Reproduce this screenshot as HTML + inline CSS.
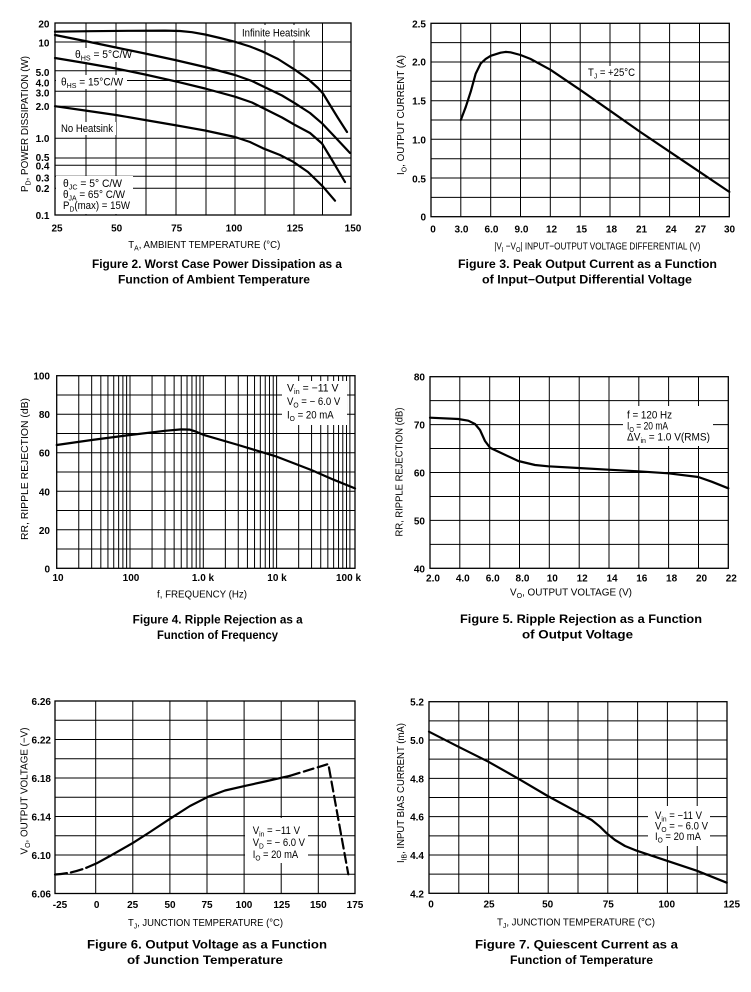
<!DOCTYPE html>
<html><head><meta charset="utf-8">
<style>
html,body{margin:0;padding:0;background:#fff;}
svg{display:block;}
text{font-family:"Liberation Sans",Arial,sans-serif;fill:#000;}
.k{font-weight:bold;font-size:10px;}
.a{font-size:10.6px;}
.x{font-size:10.4px;}
.c{font-weight:bold;font-size:11.5px;}
.s{font-size:7.4px;}
.g{stroke:#000;stroke-width:1;fill:none;}
.b{stroke:#000;stroke-width:1.3;fill:none;}
.cv{stroke:#000;stroke-width:2.2;fill:none;stroke-linejoin:round;stroke-linecap:round;}
</style></head>
<body>
<svg width="751" height="992" viewBox="0 0 751 992" xmlns="http://www.w3.org/2000/svg">
<rect x="0" y="0" width="751" height="992" fill="#fff"/>

<!-- ================= FIGURE 2 ================= -->
<path class="g" d="M86 23V215M116 23V215M146 23V215M176 23V215M206 23V215M235 23V215M265 23V215M294 23V215M322.5 23V215
M55 42H351M55 70.7H351M55 80.5H351M55 91.3H351M55 106.3H351M55 138.3H351M55 158H351M55 165.3H351M55 176.3H351M55 188.3H351"/>
<rect class="b" x="55" y="23" width="296" height="192"/>
<g fill="#fff">
<rect x="239" y="25" width="74" height="15"/>
<rect x="72" y="48" width="63" height="14"/>
<rect x="56" y="75" width="71" height="14"/>
<rect x="56" y="122" width="60" height="13"/>
<rect x="56" y="176" width="77" height="38"/>
</g>
<path class="cv" d="M55,31.7 L90,31.2 L130,30.8 L165,30.6 L180,31 L192,32.2 L205,34.5 L220,38 L235,41.8 L250,46.5 L263,51.7 L278,59 L295,69.8 L308,79 L318,88 L323,93.5 L330,105 L338,118 L347,132"/>
<path class="cv" d="M55,35 L85,41 L116,47.5 L145,53.5 L175,60 L205,67 L235,75 L252,81 L267,88.3 L282,95.5 L295,103.3 L310,113 L322,123.3 L335,137 L350,153"/>
<path class="cv" d="M55,58 L85,63 L116,68.5 L145,74.5 L177,81.7 L205,88.5 L235,96.7 L252,102.5 L267,110 L282,117.5 L295,125 L310,133 L322,143.5 L332,160 L345,182"/>
<path class="cv" d="M55,106.2 L85,110.5 L116,115 L145,120 L177,125.5 L205,130.5 L235,137 L250,142 L263,148.3 L280,155 L293,161.7 L308,172 L323,186.7 L335,200.7"/>
<g class="k" text-anchor="end">
<text x="49.5" y="27.5">20</text><text x="49.5" y="46.5">10</text><text x="49.5" y="76">5.0</text>
<text x="49.5" y="86.5">4.0</text><text x="49.5" y="96.5">3.0</text><text x="49.5" y="110">2.0</text>
<text x="49.5" y="142">1.0</text><text x="49.5" y="161">0.5</text><text x="49.5" y="169.5">0.4</text>
<text x="49.5" y="181.5">0.3</text><text x="49.5" y="192">0.2</text><text x="49.5" y="219">0.1</text>
</g>
<g class="k" text-anchor="middle">
<text x="57" y="231.5">25</text><text x="116.7" y="231.5">50</text><text x="176.7" y="231.5">75</text>
<text x="234" y="231.5">100</text><text x="295" y="231.5">125</text><text x="353" y="231.5">150</text>
</g>
<text class="a" x="242" y="36.5" textLength="68" lengthAdjust="spacingAndGlyphs">Infinite Heatsink</text>
<text class="a" x="75" y="58" textLength="57" lengthAdjust="spacingAndGlyphs">θ<tspan class="s" dy="2.5">HS</tspan><tspan dy="-2.5"> = 5°C/W</tspan></text>
<text class="a" x="61" y="85.5" textLength="62" lengthAdjust="spacingAndGlyphs">θ<tspan class="s" dy="2.5">HS</tspan><tspan dy="-2.5"> = 15°C/W</tspan></text>
<text class="a" x="61" y="132" textLength="52" lengthAdjust="spacingAndGlyphs">No Heatsink</text>
<text class="a" x="63" y="187" textLength="59" lengthAdjust="spacingAndGlyphs">θ<tspan class="s" dy="2.5">JC</tspan><tspan dy="-2.5"> = 5° C/W</tspan></text>
<text class="a" x="63" y="198" textLength="62" lengthAdjust="spacingAndGlyphs">θ<tspan class="s" dy="2.5">JA</tspan><tspan dy="-2.5"> = 65° C/W</tspan></text>
<text class="a" x="63" y="209" textLength="67" lengthAdjust="spacingAndGlyphs">P<tspan class="s" dy="2.5">D</tspan><tspan dy="-2.5">(max) = 15W</tspan></text>
<text class="x" x="128.3" y="248" textLength="152" lengthAdjust="spacingAndGlyphs">T<tspan class="s" dy="2.5">A</tspan><tspan dy="-2.5">, AMBIENT TEMPERATURE (°C)</tspan></text>
<text class="x" transform="translate(28,124) rotate(-90)" x="-68" y="0" textLength="136" lengthAdjust="spacingAndGlyphs">P<tspan class="s" dy="2.5">D</tspan><tspan dy="-2.5">, POWER DISSIPATION (W)</tspan></text>
<text class="c" x="92" y="268" textLength="250" lengthAdjust="spacingAndGlyphs">Figure 2. Worst Case Power Dissipation as a</text>
<text class="c" x="118" y="283.7" textLength="192" lengthAdjust="spacingAndGlyphs">Function of Ambient Temperature</text>

<!-- ================= FIGURE 3 ================= -->
<path class="g" d="M460.8 23.3V216.7M490.7 23.3V216.7M520.5 23.3V216.7M550.3 23.3V216.7M580.2 23.3V216.7M610 23.3V216.7M639.8 23.3V216.7M669.6 23.3V216.7M699.5 23.3V216.7
M431 197.4H729.3M431 178H729.3M431 158.7H729.3M431 139.3H729.3M431 120H729.3M431 100.7H729.3M431 81.3H729.3M431 62H729.3M431 42.6H729.3"/>
<rect class="b" x="431" y="23.3" width="298.3" height="193.4"/>
<rect x="585" y="66" width="53" height="14" fill="#fff"/>
<path class="cv" d="M460.8,120 L465.8,106.8 L470.8,91.4 L475.7,73.6 L480.7,63.5 L485.7,58.9 L490.7,55.8 L500.6,52.7 L505.6,51.9 L510.5,52.3 L520.5,55 L530.4,58.9 L550.3,69.7 L580.1,89.8 L610,110.7 L639.8,131.6 L669.6,151.7 L699.5,171.8 L729.3,191.9"/>
<g class="k" text-anchor="end">
<text x="426" y="27.3">2.5</text><text x="426" y="65.7">2.0</text><text x="426" y="104.7">1.5</text>
<text x="426" y="143.3">1.0</text><text x="426" y="182.3">0.5</text><text x="426" y="220.7">0</text>
</g>
<g class="k" text-anchor="middle">
<text x="433" y="232.3">0</text><text x="461.5" y="232.3">3.0</text><text x="491.5" y="232.3">6.0</text>
<text x="521.5" y="232.3">9.0</text><text x="551.5" y="232.3">12</text><text x="581.5" y="232.3">15</text>
<text x="611.5" y="232.3">18</text><text x="641.5" y="232.3">21</text><text x="671" y="232.3">24</text>
<text x="700.5" y="232.3">27</text><text x="729.5" y="232.3">30</text>
</g>
<text class="a" x="588" y="76" textLength="47" lengthAdjust="spacingAndGlyphs">T<tspan class="s" dy="2.5">J</tspan><tspan dy="-2.5"> = +25°C</tspan></text>
<text class="x" x="494.3" y="249.5" textLength="206" lengthAdjust="spacingAndGlyphs">|V<tspan class="s" dy="2.5">I</tspan><tspan dy="-2.5"> −V</tspan><tspan class="s" dy="2.5">O</tspan><tspan dy="-2.5">| INPUT−OUTPUT VOLTAGE DIFFERENTIAL (V)</tspan></text>
<text class="x" transform="translate(404,115) rotate(-90)" x="-60" y="0" textLength="120" lengthAdjust="spacingAndGlyphs">I<tspan class="s" dy="2.5">O</tspan><tspan dy="-2.5">, OUTPUT CURRENT (A)</tspan></text>
<text class="c" x="458" y="268" textLength="259" lengthAdjust="spacingAndGlyphs">Figure 3. Peak Output Current as a Function</text>
<text class="c" x="482" y="283.7" textLength="210" lengthAdjust="spacingAndGlyphs">of Input−Output Differential Voltage</text>

<!-- ================= FIGURE 4 ================= -->
<path class="g" d="M56.7 549H355M56.7 529.8H355M56.7 510.5H355M56.7 491.3H355M56.7 472H355M56.7 452.7H355M56.7 433.5H355M56.7 414.2H355M56.7 395H355
M78.76 375.7V568.3M91.67 375.7V568.3M100.83 375.7V568.3M107.94 375.7V568.3M113.73 375.7V568.3M118.64 375.7V568.3M122.89 375.7V568.3M126.63 375.7V568.3M130 375.7V568.3
M152.06 375.7V568.3M164.97 375.7V568.3M174.13 375.7V568.3M181.24 375.7V568.3M187.03 375.7V568.3M191.94 375.7V568.3M196.19 375.7V568.3M199.93 375.7V568.3M203.3 375.7V568.3
M225.36 375.7V568.3M238.27 375.7V568.3M247.43 375.7V568.3M254.54 375.7V568.3M260.33 375.7V568.3M265.24 375.7V568.3M269.49 375.7V568.3M273.23 375.7V568.3M276.6 375.7V568.3
M298.66 375.7V568.3M311.57 375.7V568.3M320.73 375.7V568.3M327.84 375.7V568.3M333.63 375.7V568.3M338.54 375.7V568.3M342.79 375.7V568.3M346.53 375.7V568.3M349.9 375.7V568.3"/>
<rect class="b" x="56.7" y="375.7" width="298.3" height="192.6"/>
<rect x="282" y="381" width="65" height="44" fill="#fff"/>
<path class="cv" d="M56.7,445 L91.7,440 L130,435 L165,430.8 L181.2,429.4 L189.6,429.6 L196.2,431.7 L203.3,434.8 L238.3,445 L276.6,456.6 L311.6,470.1 L333.6,479.7 L355,488.4"/>
<g class="k" text-anchor="end">
<text x="50" y="379.7">100</text><text x="50" y="418.2">80</text><text x="50" y="456.7">60</text>
<text x="50" y="495.3">40</text><text x="50" y="533.8">20</text><text x="50" y="572.3">0</text>
</g>
<g class="k" text-anchor="middle">
<text x="58" y="581">10</text><text x="131" y="581">100</text><text x="203" y="581">1.0 k</text>
<text x="277" y="581">10 k</text><text x="348.5" y="581">100 k</text>
</g>
<text class="a" x="287" y="391.5" textLength="51.5" lengthAdjust="spacingAndGlyphs">V<tspan class="s" dy="2.5">in</tspan><tspan dy="-2.5"> = −11 V</tspan></text>
<text class="a" x="287" y="405" textLength="53.3" lengthAdjust="spacingAndGlyphs">V<tspan class="s" dy="2.5">O</tspan><tspan dy="-2.5"> = − 6.0 V</tspan></text>
<text class="a" x="287" y="418.5" textLength="46.7" lengthAdjust="spacingAndGlyphs">I<tspan class="s" dy="2.5">O</tspan><tspan dy="-2.5"> = 20 mA</tspan></text>
<text class="x" x="157" y="597.5" textLength="90" lengthAdjust="spacingAndGlyphs">f, FREQUENCY (Hz)</text>
<text class="x" transform="translate(28,469) rotate(-90)" x="-71" y="0" textLength="142" lengthAdjust="spacingAndGlyphs">RR, RIPPLE REJECTION (dB)</text>
<text class="c" x="132.7" y="623.5" textLength="170" lengthAdjust="spacingAndGlyphs">Figure 4. Ripple Rejection as a</text>
<text class="c" x="157" y="639.2" textLength="121" lengthAdjust="spacingAndGlyphs">Function of Frequency</text>

<!-- ================= FIGURE 5 ================= -->
<path class="g" d="M430 544.35H728.3M430 520.4H728.3M430 496.45H728.3M430 472.5H728.3M430 448.55H728.3M430 424.6H728.3M430 400.65H728.3
M459.8 376.7V568.3M489.7 376.7V568.3M519.5 376.7V568.3M549.3 376.7V568.3M579.2 376.7V568.3M609 376.7V568.3M638.8 376.7V568.3M668.6 376.7V568.3M698.5 376.7V568.3"/>
<rect class="b" x="430" y="376.7" width="298.3" height="191.6"/>
<rect x="623" y="406" width="90" height="40" fill="#fff"/>
<path class="cv" d="M430,417.7 L458.3,419 L468.3,420.7 L475,424 L480,430 L485,441 L490,447.7 L501.7,453.3 L518.3,461 L535,465 L548.3,466.3 L578.3,468 L608.3,469.7 L638.3,471.3 L668.3,473.3 L698.3,477 L711.7,481.7 L728.3,488.3"/>
<g class="k" text-anchor="end">
<text x="425" y="380.7">80</text><text x="425" y="428.6">70</text><text x="425" y="476.5">60</text>
<text x="425" y="524.4">50</text><text x="425" y="572.3">40</text>
</g>
<g class="k" text-anchor="middle">
<text x="433" y="581.5">2.0</text><text x="462.8" y="581.5">4.0</text><text x="492.7" y="581.5">6.0</text>
<text x="522.5" y="581.5">8.0</text><text x="552.3" y="581.5">10</text><text x="582.2" y="581.5">12</text>
<text x="612" y="581.5">14</text><text x="641.8" y="581.5">16</text><text x="671.6" y="581.5">18</text>
<text x="701.5" y="581.5">20</text><text x="731.3" y="581.5">22</text>
</g>
<text class="a" x="627" y="418.5" textLength="45" lengthAdjust="spacingAndGlyphs">f = 120 Hz</text>
<text class="a" x="627" y="429.5" textLength="41" lengthAdjust="spacingAndGlyphs">I<tspan class="s" dy="2.5">O</tspan><tspan dy="-2.5"> = 20 mA</tspan></text>
<text class="a" x="627" y="440.5" textLength="83" lengthAdjust="spacingAndGlyphs">ΔV<tspan class="s" dy="2.5">in</tspan><tspan dy="-2.5"> = 1.0 V(RMS)</tspan></text>
<text class="x" x="510" y="595.5" textLength="122" lengthAdjust="spacingAndGlyphs">V<tspan class="s" dy="2.5">O</tspan><tspan dy="-2.5">, OUTPUT VOLTAGE (V)</tspan></text>
<text class="x" transform="translate(402.5,472) rotate(-90)" x="-64.5" y="0" textLength="129" lengthAdjust="spacingAndGlyphs">RR, RIPPLE REJECTION (dB)</text>
<text class="c" x="460" y="623" textLength="242" lengthAdjust="spacingAndGlyphs">Figure 5. Ripple Rejection as a Function</text>
<text class="c" x="522" y="638.7" textLength="111" lengthAdjust="spacingAndGlyphs">of Output Voltage</text>

<!-- ================= FIGURE 6 ================= -->
<path class="g" d="M55 874.25H355M55 855H355M55 835.75H355M55 816.5H355M55 797.25H355M55 778H355M55 758.75H355M55 739.5H355M55 720.25H355
M95.7 701V893.5M132.8 701V893.5M169.9 701V893.5M207 701V893.5M244.1 701V893.5M281.2 701V893.5M318.3 701V893.5"/>
<rect class="b" x="55" y="701" width="300" height="192.5"/>
<rect x="245" y="818" width="63" height="45" fill="#fff"/>
<path class="cv" stroke-dasharray="12 4" stroke-linecap="butt" d="M55,874.5 Q72,873.5 87,867.5"/>
<path class="cv" d="M87,867.5 L96.7,863.3 L110,856 L133.3,842.7 L150,832 L170.7,818.3 L190,806 L208.3,796.7 L225,790.5 L246,785.7 L265,781.5 L283.3,777.3 L290,775.8"/>
<path class="cv" stroke-dasharray="10 4.5" stroke-linecap="butt" stroke-linejoin="miter" d="M290,775.8 L328.3,764 L348.3,874.3"/>
<g class="k" text-anchor="end">
<text x="51" y="705">6.26</text><text x="51" y="743.5">6.22</text><text x="51" y="782">6.18</text>
<text x="51" y="820.5">6.14</text><text x="51" y="859">6.10</text><text x="51" y="897.5">6.06</text>
</g>
<g class="k" text-anchor="middle">
<text x="60" y="908">-25</text><text x="96.7" y="908">0</text><text x="132.7" y="908">25</text>
<text x="170" y="908">50</text><text x="207" y="908">75</text><text x="244" y="908">100</text>
<text x="281.7" y="908">125</text><text x="318.3" y="908">150</text><text x="355" y="908">175</text>
</g>
<text class="a" x="252.7" y="834" textLength="47.3" lengthAdjust="spacingAndGlyphs">V<tspan class="s" dy="2.5">in</tspan><tspan dy="-2.5"> = −11 V</tspan></text>
<text class="a" x="252.7" y="846" textLength="52.3" lengthAdjust="spacingAndGlyphs">V<tspan class="s" dy="2.5">D</tspan><tspan dy="-2.5"> = − 6.0 V</tspan></text>
<text class="a" x="252.7" y="858" textLength="45.5" lengthAdjust="spacingAndGlyphs">I<tspan class="s" dy="2.5">O</tspan><tspan dy="-2.5"> = 20 mA</tspan></text>
<text class="x" x="128" y="926" textLength="155" lengthAdjust="spacingAndGlyphs">T<tspan class="s" dy="2.5">J</tspan><tspan dy="-2.5">, JUNCTION TEMPERATURE (°C)</tspan></text>
<text class="x" transform="translate(27.5,791) rotate(-90)" x="-63.5" y="0" textLength="127" lengthAdjust="spacingAndGlyphs">V<tspan class="s" dy="2.5">O</tspan><tspan dy="-2.5">, OUTPUT VOLTAGE (−V)</tspan></text>
<text class="c" x="87" y="948.5" textLength="240" lengthAdjust="spacingAndGlyphs">Figure 6. Output Voltage as a Function</text>
<text class="c" x="127" y="964" textLength="156" lengthAdjust="spacingAndGlyphs">of Junction Temperature</text>

<!-- ================= FIGURE 7 ================= -->
<path class="g" d="M429 874.14H727M429 854.98H727M429 835.82H727M429 816.66H727M429 797.5H727M429 778.34H727M429 759.18H727M429 740.02H727M429 720.86H727
M458.8 701.7V893.3M488.6 701.7V893.3M518.4 701.7V893.3M548.2 701.7V893.3M578 701.7V893.3M607.8 701.7V893.3M637.6 701.7V893.3M667.4 701.7V893.3M697.2 701.7V893.3"/>
<rect class="b" x="429" y="701.7" width="298" height="191.6"/>
<rect x="648" y="806" width="62" height="40" fill="#fff"/>
<path class="cv" d="M429,731.7 L458.3,746.7 L488.3,761.7 L517.7,778.3 L547.7,796 L576.7,811.7 L591.7,820 L600,826.7 L606.7,833.3 L615,840 L625,846 L636.7,850.7 L651.7,855.7 L666.7,860.7 L696.7,870.7 L726.7,882.7"/>
<g class="k" text-anchor="end">
<text x="424" y="705.7">5.2</text><text x="424" y="744">5.0</text><text x="424" y="782.3">4.8</text>
<text x="424" y="820.7">4.6</text><text x="424" y="859">4.4</text><text x="424" y="897.3">4.2</text>
</g>
<g class="k" text-anchor="middle">
<text x="431" y="907.5">0</text><text x="489" y="907.5">25</text><text x="547.7" y="907.5">50</text>
<text x="608.3" y="907.5">75</text><text x="666.7" y="907.5">100</text><text x="731.7" y="907.5">125</text>
</g>
<text class="a" x="655" y="819" textLength="47" lengthAdjust="spacingAndGlyphs">V<tspan class="s" dy="2.5">in</tspan><tspan dy="-2.5"> = −11 V</tspan></text>
<text class="a" x="655" y="829.5" textLength="53" lengthAdjust="spacingAndGlyphs">V<tspan class="s" dy="2.5">O</tspan><tspan dy="-2.5"> = − 6.0 V</tspan></text>
<text class="a" x="655" y="840" textLength="46" lengthAdjust="spacingAndGlyphs">I<tspan class="s" dy="2.5">O</tspan><tspan dy="-2.5"> = 20 mA</tspan></text>
<text class="x" x="497" y="925.5" textLength="158" lengthAdjust="spacingAndGlyphs">T<tspan class="s" dy="2.5">J</tspan><tspan dy="-2.5">, JUNCTION TEMPERATURE (°C)</tspan></text>
<text class="x" transform="translate(404,793) rotate(-90)" x="-70" y="0" textLength="140" lengthAdjust="spacingAndGlyphs">I<tspan class="s" dy="2.5">IB</tspan><tspan dy="-2.5">, INPUT BIAS CURRENT (mA)</tspan></text>
<text class="c" x="475" y="948.5" textLength="203" lengthAdjust="spacingAndGlyphs">Figure 7. Quiescent Current as a</text>
<text class="c" x="510" y="964" textLength="143" lengthAdjust="spacingAndGlyphs">Function of Temperature</text>
</svg>
</body></html>
